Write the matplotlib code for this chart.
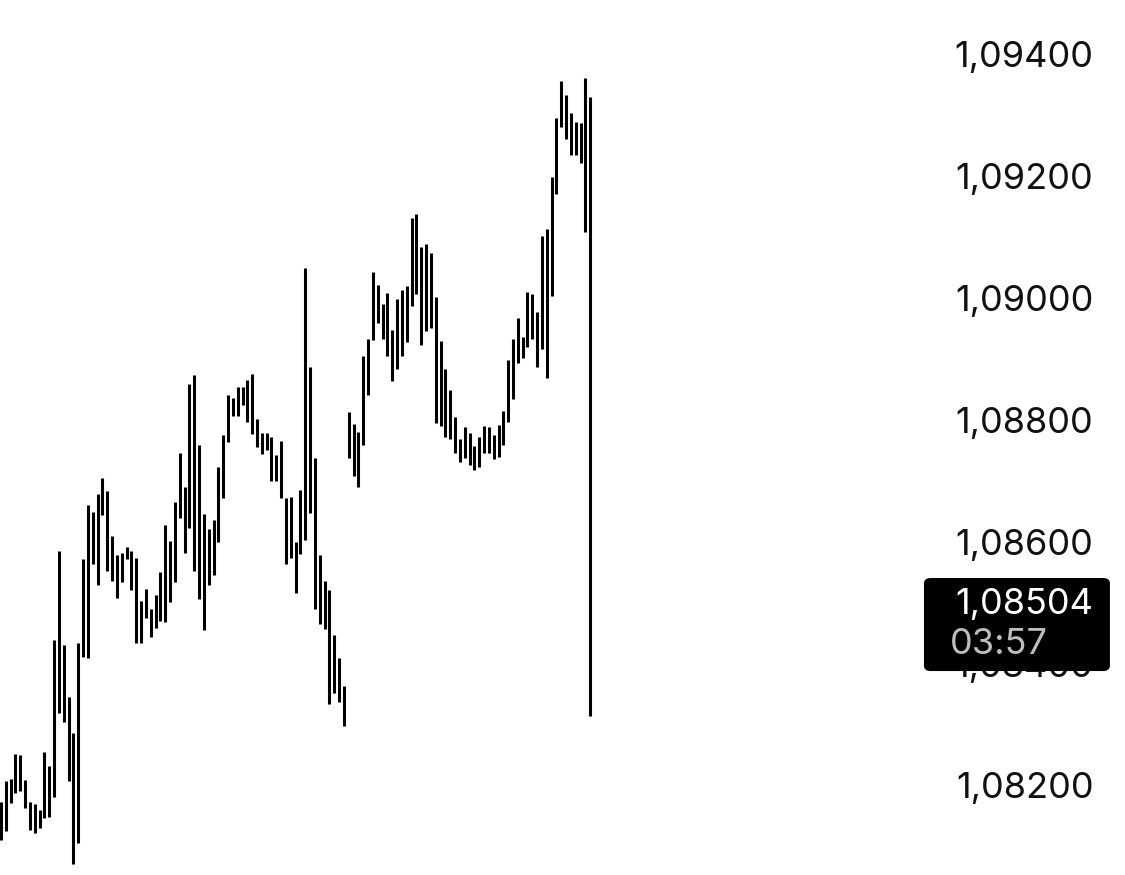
import matplotlib
matplotlib.use("Agg")
import matplotlib.pyplot as plt
from matplotlib.patches import FancyBboxPatch
from matplotlib.transforms import offset_copy

# high / low of each bar (oldest first)
highs = [
    1.08174, 1.08208, 1.08211, 1.08252, 1.08251, 1.08210, 1.08174, 1.08170, 1.08160, 1.08256,
    1.08233, 1.08439, 1.08586, 1.08431, 1.08346, 1.08286, 1.08435, 1.08572, 1.08661, 1.08650,
    1.08680, 1.08706, 1.08684, 1.08610, 1.08579, 1.08582, 1.08592, 1.08586, 1.08574, 1.08504,
    1.08524, 1.08491, 1.08513, 1.08551, 1.08628, 1.08602, 1.08666, 1.08746, 1.08691, 1.08860,
    1.08875, 1.08760, 1.08647, 1.08621, 1.08636, 1.08723, 1.08776, 1.08841, 1.08836, 1.08855,
    1.08855, 1.08866, 1.08877, 1.08803, 1.08780, 1.08780, 1.08772, 1.08743, 1.08767, 1.08672,
    1.08675, 1.08601, 1.08686, 1.09050, 1.08887, 1.08738, 1.08579, 1.08536, 1.08522, 1.08448,
    1.08410, 1.08364, 1.08813, 1.08794, 1.08781, 1.08905, 1.08934, 1.09043, 1.09022, 1.08991,
    1.09010, 1.08948, 1.08999, 1.09014, 1.09021, 1.09133, 1.09139, 1.09085, 1.09090, 1.09075,
    1.09003, 1.08930, 1.08884, 1.08850, 1.08806, 1.08769, 1.08789, 1.08780, 1.08758, 1.08773,
    1.08791, 1.08790, 1.08776, 1.08792, 1.08816, 1.08899, 1.08934, 1.08968, 1.08937, 1.09011,
    1.09008, 1.08978, 1.09103, 1.09114, 1.09199, 1.09296, 1.09357, 1.09334, 1.09304, 1.09290,
    1.09288, 1.09362, 1.09331,
]
lows = [
    1.08111, 1.08126, 1.08172, 1.08188, 1.08192, 1.08164, 1.08127, 1.08123, 1.08131, 1.08148,
    1.08149, 1.08182, 1.08320, 1.08304, 1.08208, 1.08071, 1.08106, 1.08411, 1.08410, 1.08564,
    1.08529, 1.08644, 1.08553, 1.08536, 1.08509, 1.08534, 1.08572, 1.08522, 1.08434, 1.08435,
    1.08476, 1.08444, 1.08459, 1.08471, 1.08469, 1.08502, 1.08535, 1.08640, 1.08582, 1.08623,
    1.08552, 1.08507, 1.08456, 1.08530, 1.08546, 1.08600, 1.08672, 1.08764, 1.08807, 1.08807,
    1.08826, 1.08798, 1.08777, 1.08757, 1.08745, 1.08751, 1.08701, 1.08701, 1.08672, 1.08565,
    1.08574, 1.08516, 1.08580, 1.08604, 1.08648, 1.08491, 1.08465, 1.08457, 1.08334, 1.08352,
    1.08337, 1.08298, 1.08738, 1.08709, 1.08691, 1.08760, 1.08841, 1.08932, 1.08960, 1.08934,
    1.08905, 1.08865, 1.08884, 1.08905, 1.08929, 1.08988, 1.09008, 1.08924, 1.08947, 1.08952,
    1.08795, 1.08791, 1.08773, 1.08769, 1.08746, 1.08732, 1.08739, 1.08727, 1.08719, 1.08723,
    1.08746, 1.08746, 1.08736, 1.08740, 1.08760, 1.08798, 1.08835, 1.08894, 1.08902, 1.08920,
    1.08933, 1.08887, 1.08918, 1.08869, 1.09005, 1.09172, 1.09281, 1.09262, 1.09235, 1.09235,
    1.09222, 1.09110, 1.08315,
]

price_ticks = [1.094, 1.092, 1.090, 1.088, 1.086, 1.084, 1.082]
last_price = "1,08504"
countdown = "03:57"

plt.rcParams['font.family'] = ['Inter', 'DejaVu Sans']

fig = plt.figure(figsize=(11.25, 8.75), dpi=100)
ax = fig.add_axes([0, 0, 1, 1])
ax.axis('off')

x = list(range(len(highs)))
ax.vlines(x, lows, highs, color='black', linewidth=2.2, capstyle='butt')

ax.set_xlim(-0.207, 232.7)
ax.set_ylim(1.080536, 1.094903)

# price labels on the right
label_trans = offset_copy(ax.get_yaxis_transform(), fig=fig, y=-3, units='dots')
for p in price_ticks:
    label = f"{p:.5f}".replace(".", ",")
    ax.text(0.972, p, label, transform=label_trans,
            ha='right', va='center', fontsize=26, color='#111111')

# current price tag
box = FancyBboxPatch((0.8213, 0.2331), 0.1653, 0.1063, transform=fig.transFigure,
                     boxstyle="round,pad=0,rounding_size=0.006",
                     facecolor='black', edgecolor='none', zorder=5)
fig.patches.append(box)
fig.text(0.972, 0.309, last_price, ha='right', va='center', fontsize=26,
         color='white', zorder=6)
fig.text(0.844, 0.263, countdown, ha='left', va='center', fontsize=26,
         color='#bdbdbd', zorder=6)

fig.savefig("out.png", dpi=100, facecolor='white')
